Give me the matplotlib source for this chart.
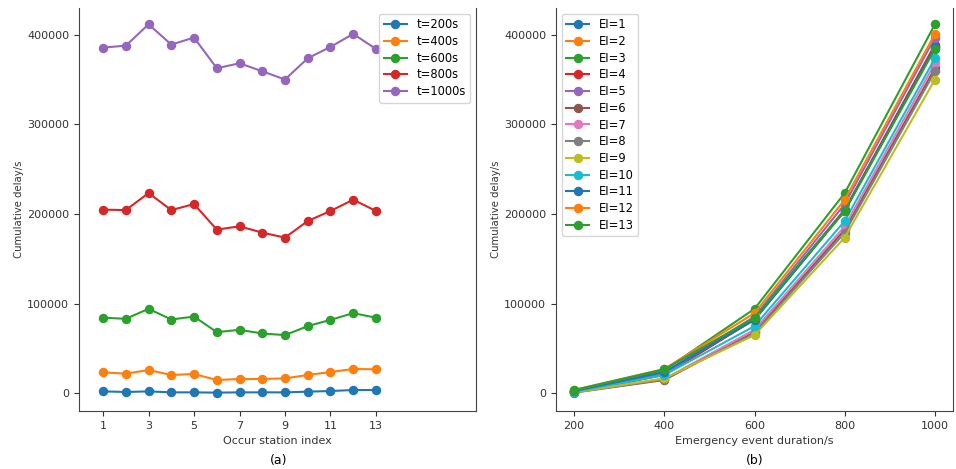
import numpy as np
import matplotlib
matplotlib.use("Agg")
from matplotlib import pyplot as plt

# ------------------ data ------------------ #
stations = [1, 2, 3, 4, 5, 6, 7, 8, 9, 10, 11, 12, 13]
durations = [200, 400, 600, 800, 1000]

delay_t200 = [2200, 1500, 2200, 1100, 1100, 800, 1100, 1100, 1100, 1900, 2600, 3700, 3700]
delay_t400 = [23400, 22000, 26000, 20500, 21600, 14900, 16000, 16000, 16700, 20500, 23800, 27200, 26800]
delay_t600 = [84400, 83200, 94300, 82400, 85700, 68300, 70900, 66800, 65000, 75000, 82000, 89500, 84400]
delay_t800 = [205000, 204500, 223500, 204500, 211200, 182700, 186400, 179300, 173800, 192300, 203500, 216100, 203500]
delay_t1000 = [385800, 388000, 411800, 389200, 397000, 362800, 368300, 359400, 350200, 373900, 386600, 401100, 384300]

t_labels = ['t=200s', 't=400s', 't=600s', 't=800s', 't=1000s']
ei_labels = ['EI=%d' % s for s in stations]

W, H = 956, 469


def main():
    plt.rcParams['font.size'] = 8
    fig = plt.figure(figsize=(W / 100, H / 100), dpi=100)
    ax1 = fig.add_axes([79 / W, (H - 411) / H, 397 / W, 403 / H])
    ax2 = fig.add_axes([556 / W, (H - 411) / H, 397 / W, 403 / H])

    series = [delay_t200, delay_t400, delay_t600, delay_t800, delay_t1000]

    # ---- (a) delay vs station ----
    for vals, lab in zip(series, t_labels):
        ax1.plot(stations, vals, marker='o', markersize=5.8, label=lab)
    ax1.set_xticks(stations[::2])
    ax1.set_xlim(-0.06, 17.4)
    ax1.set_yticks([0, 100000, 200000, 300000, 400000])
    ax1.set_xlabel('Occur station index', color='#333333')
    ax1.set_ylabel('Cumulative delay/s', color='#333333', fontsize=7.3, labelpad=2)
    ax1.legend(loc='upper right', fontsize=8.3, labelspacing=0.32)
    ax1.spines['top'].set_visible(False)

    # ---- (b) delay vs duration, one line per station ----
    data = np.array(series)
    for i, lab in enumerate(ei_labels):
        ax2.plot(durations, data[:, i], marker='o', markersize=5.8, label=lab)
    ax2.set_xticks(durations)
    ax2.set_yticks([0, 100000, 200000, 300000, 400000])
    ax2.set_xlabel('Emergency event duration/s', color='#333333')
    ax2.set_ylabel('Cumulative delay/s', color='#333333', fontsize=7.3, labelpad=2)
    ax2.legend(loc='upper left', fontsize=8.3, labelspacing=0.32)
    ax2.spines['top'].set_visible(False)

    for ax in (ax1, ax2):
        ax.set_ylim(-19700, 430000)
        ax.tick_params(colors='#333333', labelsize=8)
        for sp in ax.spines.values():
            sp.set_color('#444444')

    fig.text(279 / W, 1 - 460 / H, '(a)', ha='center', va='center', fontsize=9)
    fig.text(755 / W, 1 - 460 / H, '(b)', ha='center', va='center', fontsize=9)

    plt.savefig('out.png', dpi=100, facecolor='w')
    plt.close('all')


if __name__ == '__main__':
    main()
